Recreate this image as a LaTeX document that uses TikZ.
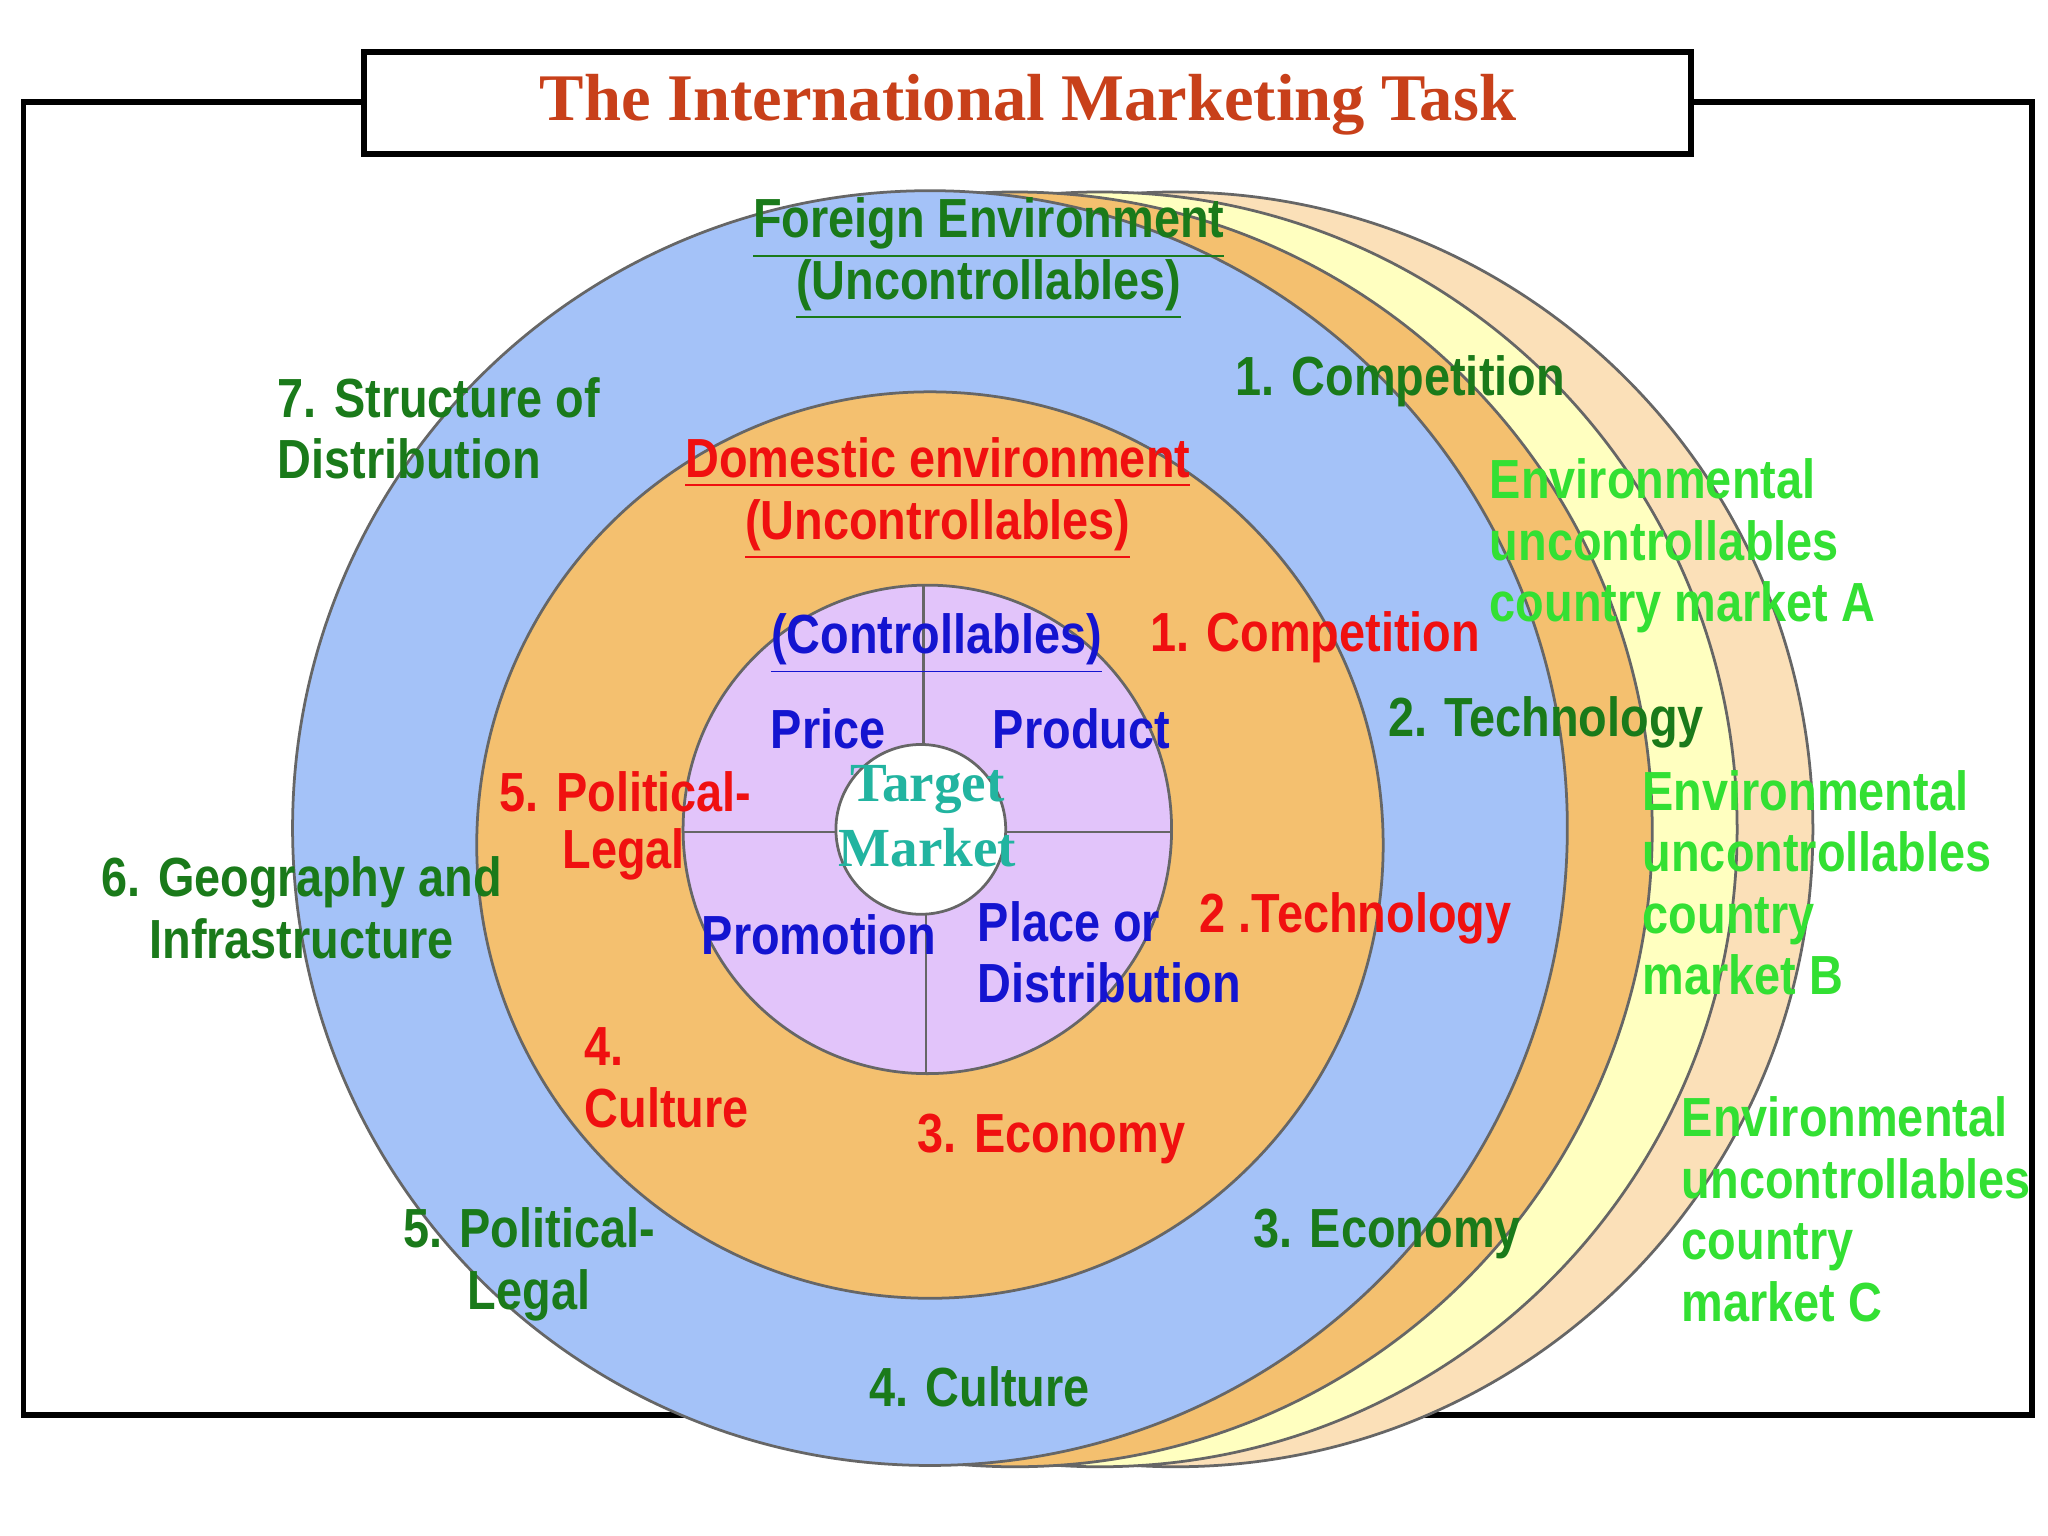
\documentclass[tikz,border=0pt]{standalone}
\usepackage{fontspec}
\setmainfont{Liberation Sans}[FakeStretch=0.85]
\newfontfamily\serifb{Liberation Serif}
\definecolor{bluef}{HTML}{A4C2F8}
\definecolor{orangef}{HTML}{F4C06F}
\definecolor{yellowf}{HTML}{FFFFC0}
\definecolor{peachf}{HTML}{FBE0B8}
\definecolor{purplef}{HTML}{E2C4FA}
\definecolor{dgreen}{HTML}{1A7A1A}
\definecolor{bgreen}{HTML}{33E033}
\definecolor{rred}{HTML}{F01010}
\definecolor{bblue}{HTML}{1414D0}
\definecolor{teal2}{HTML}{22B4A0}
\definecolor{titlec}{HTML}{C8401A}
\tikzset{
 ring/.style={draw=gray!80!black, line width=0.6pt},
 lbl/.style={font=\fontsize{12}{13.4}\selectfont\bfseries, align=left, inner sep=0pt},
 dg/.style={lbl, text=dgreen},
 bg/.style={lbl, text=bgreen},
 rd/.style={lbl, text=rred},
 bl/.style={lbl, text=bblue},
}
\begin{document}
\begin{tikzpicture}[x=0.01cm,y=-0.01cm]
\useasboundingbox (0,0) rectangle (1568,1176);
\fill[white] (0,0) rectangle (1568,1176);
\draw[line width=1.3pt] (18,78) rectangle (1556,1083);
% back circles
\draw[ring, fill=peachf] (900,635) circle [radius=488];
\draw[ring, fill=yellowf] (842,635) circle [radius=488];
\draw[ring, fill=orangef] (777,635) circle [radius=488];
\draw[ring, fill=bluef] (712,634) circle [radius=488];
\draw[ring, fill=orangef] (712,647) circle [radius=347];
\draw[ring, fill=purplef] (710,635) circle [radius=187];
\draw[ring, fill=white] (705,635) circle [radius=65];
\coordinate (v1) at (707,447); \coordinate (v2) at (707,570);
\coordinate (v3) at (709,700); \coordinate (v4) at (709,823);
\coordinate (h1) at (523,637); \coordinate (h2) at (640,637);
\coordinate (h3) at (770,637); \coordinate (h4) at (897,637);
\draw[ring] (v1)--(v2) (v3)--(v4) (h1)--(h2) (h3)--(h4);
% title
\node[draw, line width=1.3pt, fill=white, minimum width=1016*0.01cm, minimum height=78*0.01cm] (tbox) at (787,79) {};
\node[text=titlec, font=\serifb\fontsize{14.5}{16}\selectfont\bfseries] (title) at (787,80) {The International Marketing Task};
% labels
\node[dg, align=center] (fe) at (757,198) {\underline{Foreign Environment}\\\underline{(Uncontrollables)}};
\node[dg, anchor=west] (sd) at (212,328) {7. Structure of\\Distribution};
\node[dg, anchor=west] (c1) at (945,292) {1. Competition};
\node[bg, anchor=west] (ea) at (1140,418) {Environmental\\uncontrollables\\country market A};
\node[rd, align=center] (de) at (718,382) {\underline{Domestic environment}\\\underline{(Uncontrollables)}};
\node[bl] (ctrl) at (717,493) {\underline{(Controllables)}};
\node[rd, anchor=west] (c2) at (880,488) {1. Competition};
\node[dg, anchor=west] (t1) at (1062,553) {2. Technology};
\node[bl] (price) at (634,558) {Price};
\node[bl] (prod) at (828,558) {Product};
\node[text=teal2, align=center, inner sep=0pt, font=\serifb\fontsize{12}{14}\selectfont\bfseries] (tm) at (710,625) {Target\\Market};
\node[rd, anchor=west] (pl1) at (382,606) {5. Political-};
\node[rd, anchor=west] (pl2) at (430,654) {Legal};
\node[bg, anchor=west] (eb) at (1257,676) {Environmental\\uncontrollables\\country\\market B};
\node[dg, align=center] (geo) at (231,695) {6. Geography and\\Infrastructure};
\node[bl] (promo) at (627,716) {Promotion};
\node[bl, anchor=west] (place) at (748,729) {Place or\\Distribution};
\node[rd, anchor=west] (t2) at (918,703) {2 .Technology};
\node[rd, anchor=west] (cu1) at (447,825) {4.\\Culture};
\node[rd] (ec1) at (805,872) {3. Economy};
\node[bg, anchor=west] (ec) at (1287,926) {Environmental\\uncontrollables\\country\\market C};
\node[dg, align=center] (pl3) at (405,968) {5. Political-\\Legal};
\node[dg] (ec2) at (1062,945) {3. Economy};
\node[dg] (cu2) at (750,1062) {4. Culture};
\end{tikzpicture}
\end{document}
